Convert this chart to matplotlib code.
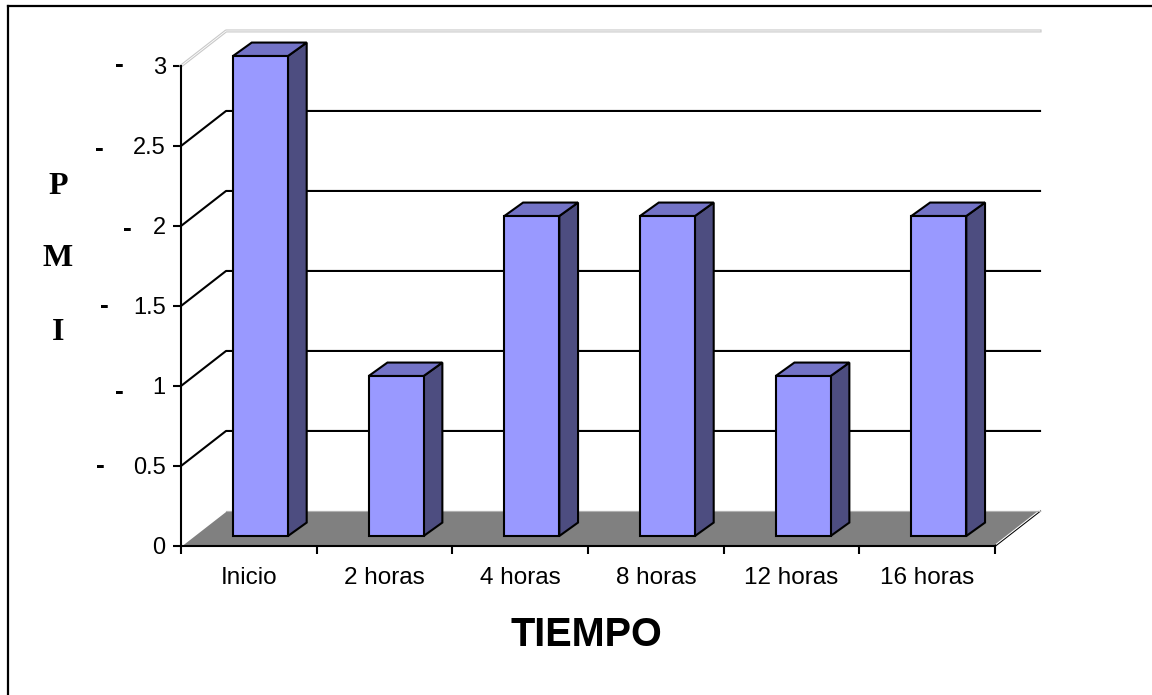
import matplotlib
matplotlib.use("Agg")
import matplotlib.pyplot as plt
import matplotlib.transforms as mtransforms
from matplotlib.patches import Polygon
from matplotlib.lines import Line2D

# datos del grafico
categorias = ["Inicio", "2 horas", "4 horas", "8 horas", "12 horas", "16 horas"]
pmi = [3, 1, 2, 2, 1, 2]
ticks_y = [0, 0.5, 1, 1.5, 2, 2.5, 3]
etiquetas_y = ["0", "0.5", "1", "1.5", "2", "2.5", "3"]
# guiones sueltos a la izquierda de las etiquetas (x en pixeles de figura)
guiones_x = [None, 100, 119, 104, 127, 99, 119]
guiones_dy = [0, 0.0, -0.035, 0.0, -0.02, -0.02, 0.005]

plt.rcParams['font.family'] = ['Liberation Sans', 'DejaVu Sans']

W, H = 1152, 695
fig = plt.figure(figsize=(W / 100, H / 100), dpi=100)
ax = fig.add_axes([181 / W, 149 / H, 814 / W, 480 / H])
n = len(categorias)
ax.set_xlim(0, n)
ax.set_ylim(0, 3)
ax.patch.set_visible(False)
for s in ["top", "right"]:
    ax.spines[s].set_visible(False)
for s in ["left", "bottom"]:
    ax.spines[s].set_linewidth(1.5)
    ax.spines[s].set_zorder(10)

# profundidad del fondo (unidades de datos)
pdx, pdy = 0.332, 0.219
# desplazamiento del frente de la barra y su profundidad
fdx, fdy = 0.086, 0.0625
bdx, bdy = 0.138, 0.084
ancho = 0.405

# piso gris
piso = Polygon([(0, 0), (n, 0), (n + pdx, pdy), (pdx, pdy)], closed=True,
               fc="#808080", ec="none", clip_on=False, zorder=1)
ax.add_patch(piso)
ax.plot([n, n + pdx], [0, pdy], color="black", lw=1.3, clip_on=False, zorder=2)
ax.plot([n + 0.01, n + pdx + 0.01], [0.012, pdy + 0.012], color="white", lw=0.8, clip_on=False, zorder=2)
ax.plot([0, pdx], [0, pdy], color="white", lw=1.2, clip_on=False, zorder=2)
ax.plot([pdx, n + pdx], [pdy, pdy], color="#b0b0b0", lw=0.8, clip_on=False, zorder=2)

# lineas de division en pared lateral y fondo
for v in ticks_y[1:]:
    if v == ticks_y[-1]:
        ax.plot([0, pdx, n + pdx], [v, v + pdy, v + pdy], color="#c8c8c8",
                lw=2.2, clip_on=False, zorder=2)
        ax.plot([0, pdx, n + pdx], [v, v + pdy, v + pdy], color="white",
                lw=0.6, clip_on=False, zorder=2)
    else:
        ax.plot([0, pdx, n + pdx], [v, v + pdy, v + pdy], color="black",
                lw=1.5, clip_on=False, zorder=2)

# barras 3D
for i, v in enumerate(pmi):
    x0 = i + 0.5 - ancho / 2 + fdx
    y0 = fdy
    frente = Polygon([(x0, y0), (x0 + ancho, y0), (x0 + ancho, y0 + v), (x0, y0 + v)],
                     fc="#9999FF", ec="black", lw=1.5, clip_on=False, zorder=5)
    lado = Polygon([(x0 + ancho, y0), (x0 + ancho + bdx, y0 + bdy),
                    (x0 + ancho + bdx, y0 + v + bdy), (x0 + ancho, y0 + v)],
                   fc="#4D4D80", ec="black", lw=1.5, clip_on=False, zorder=4)
    tapa = Polygon([(x0, y0 + v), (x0 + ancho, y0 + v), (x0 + ancho + bdx, y0 + v + bdy),
                    (x0 + bdx, y0 + v + bdy)],
                   fc="#7373C6", ec="black", lw=1.5, clip_on=False, zorder=4)
    for p in (lado, tapa, frente):
        ax.add_patch(p)

# ejes
ax.set_yticks(ticks_y)
ax.set_yticklabels(etiquetas_y, fontsize=17)
ax.tick_params(axis="y", length=6, width=1.5, pad=5)
ax.set_xticks(range(n + 1))
ax.set_xticklabels([])
ax.set_xticks([i + 0.5 for i in range(n)], minor=True)
ax.set_xticklabels(categorias, minor=True, fontsize=17.5)
ax.tick_params(axis="x", which="major", length=6, width=1.5)
ax.tick_params(axis="x", which="minor", length=0, pad=15)

# guiones
tr = mtransforms.blended_transform_factory(fig.dpi_scale_trans, ax.transData)
for gx, v, dy in zip(guiones_x, ticks_y, guiones_dy):
    if gx is None:
        continue
    ax.text(gx / 100, v + dy, "-", transform=tr, fontsize=19, fontweight="bold",
            ha="center", va="center")

# titulos
fig.text(586 / W, 1 - 635 / H, "TIEMPO", fontsize=28.5, fontweight="bold",
         ha="center", va="center")
for letra, yy in zip(["P", "M", "I"], [186, 258, 332]):
    fig.text(58 / W, 1 - yy / H, letra, fontsize=23, fontweight="bold",
             family="Liberation Serif", ha="center", va="center")

# marco de la figura
fig.add_artist(Line2D([8 / W, 8 / W], [0, 1 - 6 / H], color="black", lw=1.6,
                      transform=fig.transFigure))
fig.add_artist(Line2D([8 / W, 1], [1 - 6 / H, 1 - 6 / H], color="black", lw=1.6,
                      transform=fig.transFigure))

fig.savefig("out.png", dpi=100)
